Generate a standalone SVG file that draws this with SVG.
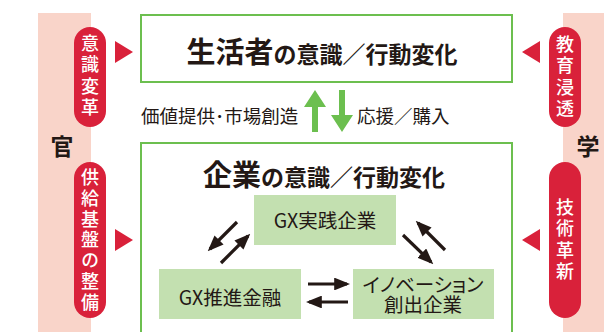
<svg xmlns="http://www.w3.org/2000/svg" width="604" height="332" viewBox="0 0 604 332">
<style>
text{font-family:"Noto Sans CJK JP","Noto Sans",sans-serif;}
.band{fill:#f9d4c9;}
.pill{fill:#d9213a;}
.pt{fill:#fff;font-size:18px;font-weight:500;text-anchor:middle;writing-mode:vertical-rl;}
.tri{fill:#d9213a;}
.box{fill:#fff;stroke:#6cbf4f;stroke-width:2;}
.gbox{fill:#c3e0b0;}
.title{fill:#231815;font-weight:700;}
.lbl{fill:#231815;font-size:18.5px;}
.gt{fill:#231815;font-size:19.5px;text-anchor:middle;font-feature-settings:"palt";}
.side{fill:#231815;font-size:23px;font-weight:700;text-anchor:middle;}
.ar{stroke:#231815;stroke-width:3.2;fill:none;}
.garrow{fill:#6cbf4f;}
</style>
<defs>
<marker id="ah" viewBox="0 0 10 8" refX="8" refY="4" markerWidth="5" markerHeight="4" orient="auto" markerUnits="strokeWidth">
<path d="M0,0 L10,4 L0,8 z" fill="#231815"/>
</marker>
</defs>
<g id="band-left"><rect class="band" x="38" y="13" width="53" height="319"/><text class="side" x="62" y="155">官</text></g>
<g id="band-right"><rect class="band" x="563" y="13" width="41" height="319"/><text class="side" x="588" y="155">学</text></g>
<g id="pill-ishiki"><rect class="pill" x="74" y="27" width="32" height="100" rx="16"/>
<text class="pt" x="90" y="77" letter-spacing="3.5">意識変革</text></g>
<g id="pill-kyokyu"><rect class="pill" x="74" y="162" width="32" height="156" rx="16"/>
<text class="pt" x="90" y="241" letter-spacing="2.7">供給基盤の整備</text></g>
<g id="pill-kyoiku"><rect class="pill" x="549" y="27" width="32" height="100" rx="16"/>
<text class="pt" x="565" y="78" letter-spacing="3.5">教育浸透</text></g>
<g id="pill-gijutsu"><rect class="pill" x="549" y="162" width="32" height="156" rx="16"/>
<text class="pt" x="565" y="241" letter-spacing="3.5">技術革新</text></g>
<g id="triangles">
<polygon class="tri" points="115,41 133,52 115,63"/>
<polygon class="tri" points="115,229 133,240 115,251"/>
<polygon class="tri" points="540,41 522,52 540,63"/>
<polygon class="tri" points="540,229 522,240 540,251"/>
</g>
<g id="consumer"><rect class="box" x="141" y="15" width="371" height="67"/>
<text class="title" x="322" y="63" text-anchor="middle"><tspan font-size="29">生活者</tspan><tspan font-size="23">の意識／行動変化</tspan></text></g>
<g id="company"><rect class="box" x="141" y="143" width="371" height="200"/>
<text class="title" x="324" y="186" text-anchor="middle"><tspan font-size="29">企業</tspan><tspan font-size="23">の意識／行動変化</tspan></text></g>
<g id="gx-jissen"><rect class="gbox" x="254" y="195" width="142" height="50"/><text class="gt" x="325" y="228">GX実践企業</text></g>
<g id="gx-suishin"><rect class="gbox" x="159" y="269" width="142" height="50"/><text class="gt" x="230" y="305">GX推進金融</text></g>
<g id="innovation"><rect class="gbox" x="353" y="269" width="141" height="50"/><text class="gt" x="423" y="292"><tspan x="423" y="292">イノベーション</tspan><tspan x="423" y="312">創出企業</tspan></text></g>
<g id="connectors">
<path class="garrow" d="M315,90 L326,107 L318,107 L318,132 L312,132 L312,107 L304,107 z"/>
<path class="garrow" d="M342,132 L331,115 L339,115 L339,90 L345,90 L345,115 L353,115 z"/>
<text class="lbl" x="141" y="123">価値提供･市場創造</text>
<text class="lbl" x="357" y="123">応援／購入</text>
<line class="ar" x1="237" y1="222" x2="210" y2="249" marker-end="url(#ah)"/>
<line class="ar" x1="221" y1="263" x2="248" y2="236" marker-end="url(#ah)"/>
<line class="ar" x1="403" y1="235" x2="431" y2="262" marker-end="url(#ah)"/>
<line class="ar" x1="445" y1="250" x2="418" y2="223" marker-end="url(#ah)"/>
<line class="ar" x1="308" y1="284" x2="347" y2="284" marker-end="url(#ah)"/>
<line class="ar" x1="348" y1="302" x2="309" y2="302" marker-end="url(#ah)"/>
</g>
</svg>
